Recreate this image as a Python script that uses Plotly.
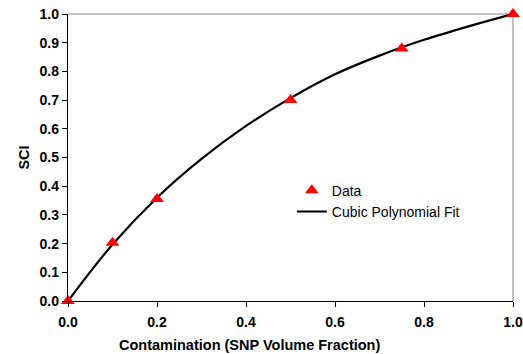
import plotly.graph_objects as go

# Measured SCI versus contamination level
contamination = [0.0, 0.1, 0.2, 0.5, 0.75, 1.0]
sci = [0.0, 0.203, 0.355, 0.70, 0.88, 1.0]

# Cubic polynomial fit curve, sampled along the x range
fit_x = [0.0, 0.1, 0.2, 0.3, 0.4, 0.5, 0.6, 0.7, 0.8, 0.9, 1.0]
fit_y = [0.0, 0.197, 0.36, 0.495, 0.61, 0.707, 0.79, 0.855, 0.91, 0.957, 1.0]

tick_vals_x = [0.0, 0.2, 0.4, 0.6, 0.8, 1.0]
tick_vals_y = [0.0, 0.1, 0.2, 0.3, 0.4, 0.5, 0.6, 0.7, 0.8, 0.9, 1.0]

font_family = "Liberation Sans, Arial, sans-serif"

fig = go.Figure()
fig.add_trace(go.Scatter(
    x=fit_x, y=fit_y, mode="lines", name="Cubic Polynomial Fit",
    line=dict(color="black", width=2.2, shape="spline", smoothing=1.0),
    cliponaxis=False,
))
fig.add_trace(go.Scatter(
    x=contamination, y=sci, mode="markers", name="Data",
    marker=dict(symbol="triangle-up", size=12, color="#FF0000"),
    cliponaxis=False,
))

axis_common = dict(
    showgrid=False, zeroline=False, showline=True, linecolor="black", linewidth=1.3,
    ticks="outside", ticklen=5, tickcolor="black", tickwidth=1,
    tickfont=dict(family=font_family, size=14, color="black", weight="bold"),
    range=[0, 1], automargin=False,
)

fig.update_layout(
    width=523, height=354,
    margin=dict(l=68, r=10, t=14, b=53),
    paper_bgcolor="white", plot_bgcolor="white",
    font=dict(family=font_family, color="black"),
    xaxis=dict(**axis_common, tickvals=tick_vals_x, tickformat=".1f",
               ticklabelstandoff=3),
    yaxis=dict(**axis_common, tickvals=tick_vals_y, tickformat=".1f",
               title=dict(text="<b>SCI</b>", font=dict(size=14.5), standoff=6)),
    legend=dict(x=0.503, y=0.44, xanchor="left", yanchor="top",
                traceorder="reversed",
                font=dict(family=font_family, size=14, color="black"),
                bgcolor="rgba(0,0,0,0)", itemwidth=30, tracegroupgap=0),
    showlegend=True,
    annotations=[
        dict(text="<b>Contamination (SNP Volume Fraction)</b>",
             xref="paper", yref="paper", x=0.407, y=-0.153,
             xanchor="center", yanchor="middle", showarrow=False,
             font=dict(family=font_family, size=14.5, color="black")),
    ],
    shapes=[
        dict(type="line", xref="paper", yref="paper", x0=0, x1=1, y0=1, y1=1,
             line=dict(color="#B0B0B0", width=1.5), layer="below"),
        dict(type="line", xref="paper", yref="paper", x0=1, x1=1, y0=0, y1=1,
             line=dict(color="#B0B0B0", width=1.5), layer="below"),
    ],
)

fig.write_html("out.html")
